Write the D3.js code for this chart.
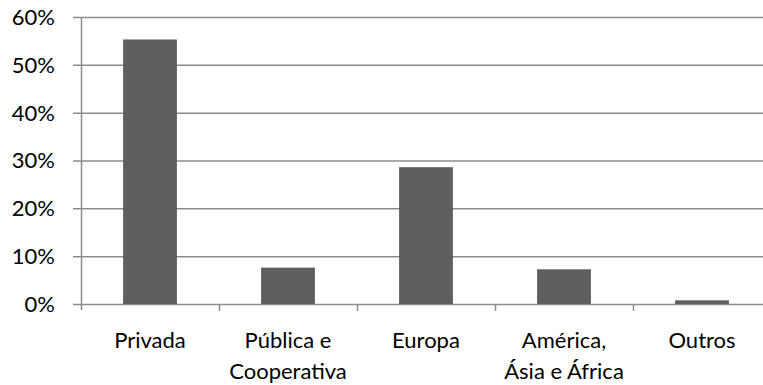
<!DOCTYPE html>
<html>
<head>
<meta charset="utf-8">
<script src="https://cdn.jsdelivr.net/npm/d3@7"></script>
<style>
  html, body { margin: 0; padding: 0; background: #fff; }
  svg { display: block; }
  text { font-family: Lato, "Open Sans", sans-serif; fill: #000; }
</style>
</head>
<body>
<svg id="chart" width="763" height="385"></svg>
<script>
// Share of total by category
const categories = [["Privada"], ["Pública e", "Cooperativa"], ["Europa"], ["América,", "Ásia e África"], ["Outros"]];
const values = [0.553, 0.076, 0.286, 0.0725, 0.0077];
const yTicks = [0, 0.1, 0.2, 0.3, 0.4, 0.5, 0.6];

const svg = d3.select("#chart");
const plotLeft = 81, plotRight = 771, plotTop = 17, plotBottom = 304;

const keys = categories.map(c => c.join(" "));
const x = d3.scaleBand().domain(keys).range([plotLeft, plotRight]).paddingInner(0.61).paddingOuter(0.305);
const xb = d3.scaleBand().domain(keys).range([plotLeft, plotRight]);
const y = d3.scaleLinear().domain([0, 0.6]).range([plotBottom, plotTop]);

const grid = "#8c8c8c";

// horizontal gridlines with short ticks to the left of the axis
svg.append("g").selectAll("line").data(yTicks).join("line")
  .attr("x1", plotLeft - 8).attr("x2", plotRight)
  .attr("y1", d => y(d) + 0.5).attr("y2", d => y(d) + 0.5)
  .attr("stroke", grid).attr("stroke-width", 1.5);

// y axis line
svg.append("line").attr("x1", plotLeft + 0.5).attr("x2", plotLeft + 0.5)
  .attr("y1", plotTop).attr("y2", plotBottom + 6)
  .attr("stroke", grid).attr("stroke-width", 1.5);

// category boundary ticks
svg.append("g").selectAll("line").data(keys.slice(1)).join("line")
  .attr("x1", d => xb(d) + 0.5).attr("x2", d => xb(d) + 0.5)
  .attr("y1", plotBottom).attr("y2", plotBottom + 7)
  .attr("stroke", grid).attr("stroke-width", 1.5);

// bars
svg.append("g").selectAll("rect").data(values).join("rect")
  .attr("x", (d, i) => x(keys[i]))
  .attr("width", x.bandwidth())
  .attr("y", d => y(d))
  .attr("height", d => y(0) - y(d))
  .attr("fill", "#5f5f5f");

// y tick labels
svg.append("g").selectAll("text").data(yTicks).join("text")
  .attr("x", 55).attr("y", d => y(d))
  .attr("dy", "0.36em")
  .attr("text-anchor", "end")
  .attr("font-size", 22)
  .text(d3.format(".0%"));

// category labels
const lab = svg.append("g").selectAll("text").data(categories).join("text")
  .attr("x", (d, i) => xb(keys[i]) + xb.bandwidth() / 2)
  .attr("y", 348)
  .attr("text-anchor", "middle")
  .attr("font-size", 22);
lab.selectAll("tspan").data(d => d).join("tspan")
  .attr("x", function() { return this.parentNode.getAttribute("x"); })
  .attr("dy", (d, i) => i === 0 ? 0 : 31)
  .text(d => d);
</script>
</body>
</html>
